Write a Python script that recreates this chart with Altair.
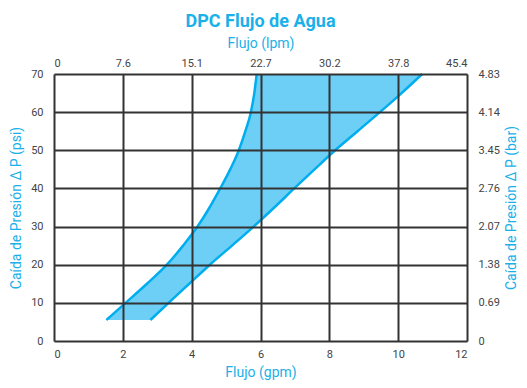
import altair as alt
import pandas as pd

# Pressure drop (psi) sampled along the band
psi = [5.5, 10, 15, 20, 25, 30, 35, 40, 45, 50, 55, 60, 65, 70]
# Flow (gpm) on the left (upper) boundary curve
flow_left = [1.52, 2.08, 2.70, 3.28, 3.75, 4.17, 4.52, 4.83, 5.12, 5.37, 5.56, 5.72, 5.82, 5.89]
# Flow (gpm) on the right (lower) boundary line
flow_right = [2.80, 3.33, 3.93, 4.53, 5.17, 5.80, 6.40, 6.98, 7.57, 8.17, 8.82, 9.47, 10.10, 10.70]

gpm_ticks = [0, 2, 4, 6, 8, 10, 12]
lpm_labels = ["0", "7.6", "15.1", "22.7", "30.2", "37.8", "45.4"]
psi_ticks = [0, 10, 20, 30, 40, 50, 60, 70]
bar_labels = ["0", "0.69", "1.38", "2.07", "2.76", "3.45", "4.14", "4.83"]

CYAN = "#1ab0e8"
FILL = "#6dcff6"
STROKE = "#00aeef"
GRID = "#333333"
LABEL = "#444444"
FONT = "Roboto"

W, H = 413, 267

df = pd.DataFrame({"psi": psi, "left": flow_left, "right": flow_right})


def map_expr(values, labels):
    parts = [f"datum.value == {v} ? '{l}'" for v, l in zip(values, labels)]
    return " : ".join(parts) + " : ''"


x_scale = alt.Scale(domain=[0, 12], nice=False, zero=False)
y_scale = alt.Scale(domain=[0, 70], nice=False, zero=False)

common_axis = dict(
    labelFont=FONT, labelFontSize=11, labelColor=LABEL,
    titleFont=FONT, titleFontSize=14, titleFontWeight="normal", titleColor=CYAN,
    ticks=False, domain=False,
)

bottom_axis = alt.Axis(
    orient="bottom", values=gpm_ticks, grid=True, gridColor=GRID, gridWidth=2,
    gridOpacity=1, labelPadding=7, title="Flujo (gpm)",
    titleX=W / 2, titleY=31, titleBaseline="middle", zindex=1, **common_axis)
top_axis = alt.Axis(
    orient="top", values=gpm_ticks, grid=False, labelExpr=map_expr(gpm_ticks, lpm_labels),
    labelPadding=6, title="Flujo (lpm)", titlePadding=7, zindex=1, **common_axis)
left_axis = alt.Axis(
    orient="left", values=psi_ticks, grid=True, gridColor=GRID, gridWidth=2,
    gridOpacity=1, labelPadding=11, title="Caída de Presión Δ P (psi)",
    titleX=-38, titleY=H / 2, titleAngle=270, titleBaseline="middle", titleAlign="center",
    zindex=1, **common_axis)
right_axis = alt.Axis(
    orient="right", values=psi_ticks, grid=False, labelExpr=map_expr(psi_ticks, bar_labels),
    labelPadding=11, labelAlign="left", title="Caída de Presión Δ P (bar)",
    titleX=44, titleY=H / 2, titleAngle=270, titleBaseline="middle", titleAlign="center",
    zindex=1, **common_axis)

band = alt.Chart(df).mark_area(
    color=FILL, opacity=1, orient="horizontal", interpolate="monotone"
).encode(
    y=alt.Y("psi:Q", scale=y_scale, axis=left_axis),
    x=alt.X("left:Q", scale=x_scale, axis=bottom_axis),
    x2="right:Q",
)

left_line = alt.Chart(df).mark_line(
    color=STROKE, strokeWidth=2.5, interpolate="monotone"
).encode(
    y=alt.Y("psi:Q", scale=y_scale, axis=right_axis),
    x=alt.X("left:Q", scale=x_scale, axis=top_axis),
    order="psi:Q",
)

right_line = alt.Chart(df).mark_line(
    color=STROKE, strokeWidth=2.5, interpolate="monotone"
).encode(
    y=alt.Y("psi:Q", scale=y_scale, axis=None),
    x=alt.X("right:Q", scale=x_scale, axis=None),
    order="psi:Q",
)

chart = (
    alt.layer(band, left_line, right_line)
    .resolve_axis(x="independent", y="independent")
    .properties(
        width=W, height=H,
        autosize=alt.AutoSizeParams(type="none"),
        padding={"left": 46, "top": 66, "right": 52, "bottom": 39},
        title=alt.TitleParams("DPC Flujo de Agua", font=FONT, fontSize=18,
                              fontWeight="bold", color=CYAN, anchor="middle", offset=5),
    )
    .configure_view(stroke="#444444", strokeWidth=2)
    .configure(background="white")
)

chart.save("out.html", embed_options={"renderer": "svg", "actions": False})
